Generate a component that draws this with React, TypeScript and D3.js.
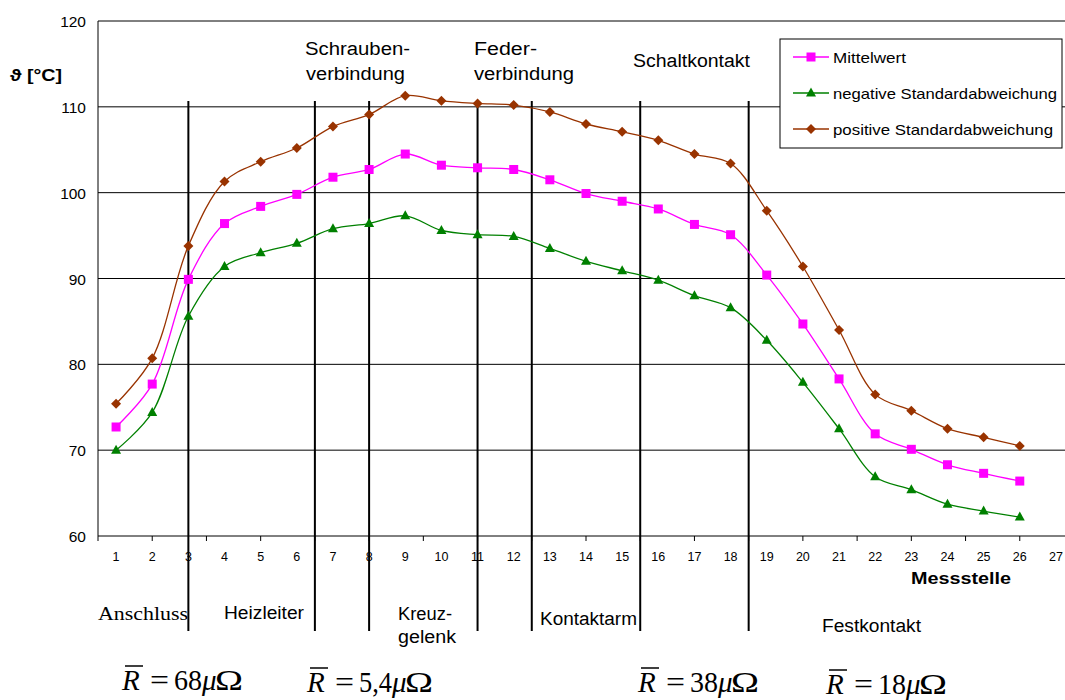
import * as d3 from "d3";

// Messstellen 1..26
const messstellen = [1, 2, 3, 4, 5, 6, 7, 8, 9, 10, 11, 12, 13, 14, 15, 16, 17, 18, 19, 20, 21, 22, 23, 24, 25, 26];
const mittelwert = [72.7, 77.7, 89.9, 96.4, 98.4, 99.8, 101.8, 102.7, 104.5, 103.2, 102.9, 102.7, 101.5, 99.9, 99.0, 98.1, 96.3, 95.1, 90.4, 84.7, 78.3, 71.9, 70.1, 68.3, 67.3, 66.4];
const negStd = [70.0, 74.4, 85.6, 91.4, 93.0, 94.1, 95.8, 96.4, 97.3, 95.6, 95.1, 94.9, 93.5, 92.0, 90.9, 89.8, 88.0, 86.6, 82.8, 77.9, 72.5, 66.9, 65.4, 63.7, 62.9, 62.2];
const posStd = [75.4, 80.7, 93.8, 101.3, 103.6, 105.2, 107.7, 109.1, 111.3, 110.7, 110.4, 110.2, 109.4, 108.0, 107.1, 106.1, 104.5, 103.4, 97.9, 91.4, 84.0, 76.5, 74.6, 72.5, 71.5, 70.5];

const xTickLabels = [1, 2, 3, 4, 5, 6, 7, 8, 9, 10, 11, 12, 13, 14, 15, 16, 17, 18, 19, 20, 21, 22, 23, 24, 25, 26, 27];
const yTicks = [60, 70, 80, 90, 100, 110, 120];
const separators = [3, 6.5, 8, 11, 12.5, 15.5, 18.5];

const seriesNames = ["Mittelwert", "negative Standardabweichung", "positive Standardabweichung"];
const seriesColors = ["#ff00ff", "#008000", "#993300"];

const resistances = ["68", "5,4", "38", "18"];

const sans = "'Liberation Sans', Arial, sans-serif";
const serif = "'Liberation Serif', 'Times New Roman', serif";

function Marker({ kind, x, y, color }: { kind: number; x: number; y: number; color: string }) {
  if (kind === 0) return <rect x={x - 4.5} y={y - 4.5} width={9} height={9} fill={color} />;
  if (kind === 1) return <path d={`M${x},${y - 5.5}L${x + 5},${y + 3.5}L${x - 5},${y + 3.5}Z`} fill={color} />;
  return <path d={`M${x},${y - 5}L${x + 5},${y}L${x},${y + 5}L${x - 5},${y}Z`} fill={color} />;
}

function Label({ x, y, w, children, size = 18, family = sans }: { x: number; y: number; w: number; children: string; size?: number; family?: string }) {
  return (
    <text x={x} y={y} fontFamily={family} fontSize={size} textLength={w} lengthAdjust="spacingAndGlyphs">
      {children}
    </text>
  );
}

function Formula({ x, y, value }: { x: number; y: number; value: string }) {
  // rough glyph advance of the number at 29px Times
  const vw = value.split("").reduce((s, c) => s + (c === "," ? 5 : 14), 0);
  const vx = x + 52;
  return (
    <g fontFamily={serif} fontSize={29}>
      <line x1={x + 3} x2={x + 21} y1={y - 24} y2={y - 24} stroke="#000" strokeWidth={1.5} />
      <text x={x} y={y} fontStyle="italic">R</text>
      <text x={x + 28} y={y} textLength={19} lengthAdjust="spacingAndGlyphs">=</text>
      <text x={vx} y={y} textLength={vw} lengthAdjust="spacingAndGlyphs">{value}</text>
      <text x={vx + vw} y={y} fontStyle="italic">μ</text>
      <text x={vx + vw + 13} y={y} textLength={28} lengthAdjust="spacingAndGlyphs">Ω</text>
    </g>
  );
}

export default function App() {
  const width = 1065;
  const height = 700;
  const left = 98;
  const top = 21;
  const bottom = 536;

  const x = d3.scaleLinear().domain([0.5, 27.5]).range([left, 1074]);
  const y = d3.scaleLinear().domain([60, 120]).range([bottom, top]);

  const series = [mittelwert, negStd, posStd];
  const line = d3
    .line<number>()
    .x((_, i) => x(messstellen[i]))
    .y((d) => y(d))
    .curve(d3.curveCatmullRom.alpha(0.5));

  const xTicks = d3.range(0.5, 27.5, 1.5);
  const formulaPos = [
    [122, 690],
    [307, 692],
    [638, 692],
    [826, 694],
  ];

  return (
    <svg width={width} height={height} style={{ position: "absolute", left: 0, top: 0, background: "#fff" }}>
      {/* grid */}
      {yTicks.map((t) => (
        <line key={t} x1={left} x2={width} y1={y(t)} y2={y(t)} stroke="#000" strokeWidth={1} />
      ))}
      <line x1={left} x2={left} y1={top} y2={bottom} stroke="#000" strokeWidth={1} />
      {xTicks.map((t) => (
        <line key={t} x1={x(t)} x2={x(t)} y1={bottom} y2={bottom + 5} stroke="#000" />
      ))}
      {yTicks.map((t) => (
        <text key={t} x={86} y={y(t) + 6} textAnchor="end" fontFamily={sans} fontSize={15.5}>
          {t}
        </text>
      ))}
      {xTickLabels.map((t) => (
        <text key={t} x={x(t)} y={561} textAnchor="middle" fontFamily={sans} fontSize={12.5}>
          {t}
        </text>
      ))}
      <text x={10} y={81} fontFamily={sans} fontSize={17} fontWeight="bold" textLength={52} lengthAdjust="spacingAndGlyphs">
        ϑ [°C]
      </text>
      <text x={911} y={584} fontFamily={sans} fontSize={16} fontWeight="bold" textLength={100} lengthAdjust="spacingAndGlyphs">
        Messstelle
      </text>

      {/* section separators */}
      {separators.map((s) => (
        <line key={s} x1={x(s)} x2={x(s)} y1={101} y2={631} stroke="#000" strokeWidth={2} />
      ))}

      {/* series */}
      {series.map((vals, si) => (
        <g key={si}>
          <path d={line(vals) ?? ""} fill="none" stroke={seriesColors[si]} strokeWidth={1.3} />
          {vals.map((v, i) => (
            <Marker key={i} kind={si} x={x(messstellen[i])} y={y(v)} color={seriesColors[si]} />
          ))}
        </g>
      ))}

      {/* section labels */}
      <Label x={305} y={55} w={105}>Schrauben-</Label>
      <Label x={306} y={80} w={99}>verbindung</Label>
      <Label x={474} y={55} w={63}>Feder-</Label>
      <Label x={474} y={80} w={100}>verbindung</Label>
      <Label x={633} y={67} w={117}>Schaltkontakt</Label>
      <Label x={98} y={620} w={90} family={serif}>Anschluss</Label>
      <Label x={224} y={619} w={80}>Heizleiter</Label>
      <Label x={398} y={620} w={54}>Kreuz-</Label>
      <Label x={398} y={643} w={58}>gelenk</Label>
      <Label x={540} y={625} w={97}>Kontaktarm</Label>
      <Label x={822} y={632} w={99}>Festkontakt</Label>

      {resistances.map((r, i) => (
        <Formula key={r} x={formulaPos[i][0]} y={formulaPos[i][1]} value={r} />
      ))}

      {/* legend */}
      <rect x={780} y={39} width={282} height={109} fill="#fff" stroke="#000" strokeWidth={1} />
      {seriesNames.map((n, i) => (
        <g key={n}>
          <line x1={793} x2={829} y1={57 + i * 36} y2={57 + i * 36} stroke={seriesColors[i]} strokeWidth={1.3} />
          <Marker kind={i} x={811} y={57 + i * 36} color={seriesColors[i]} />
          <text x={833} y={63 + i * 36} fontFamily={sans} fontSize={15} textLength={[73, 224, 220][i]} lengthAdjust="spacingAndGlyphs">
            {n}
          </text>
        </g>
      ))}
    </svg>
  );
}
